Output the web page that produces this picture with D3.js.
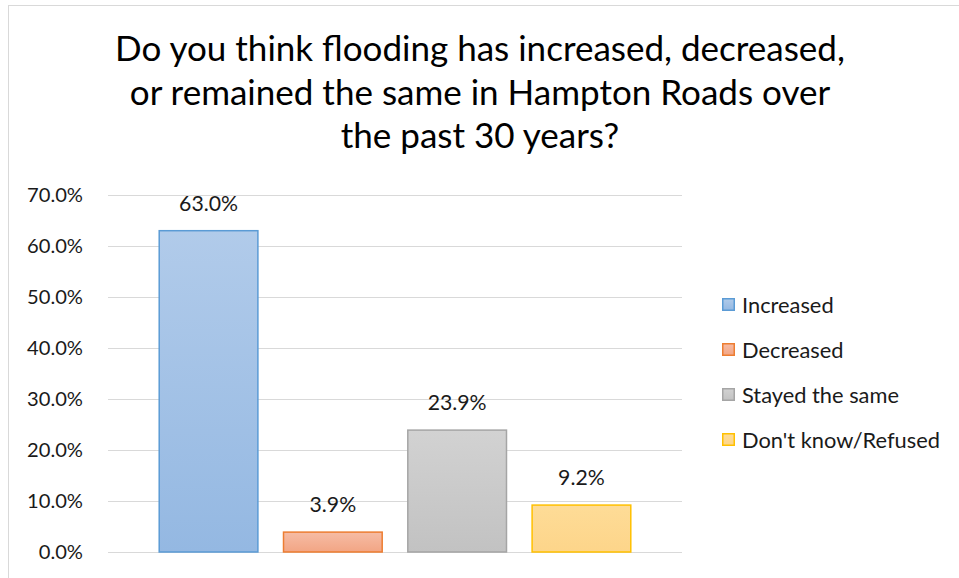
<!DOCTYPE html>
<html>
<head>
<meta charset="utf-8">
<script src="https://cdn.jsdelivr.net/npm/d3@7"></script>
<style>
  html, body { margin: 0; padding: 0; background: #fff; }
  svg { display: block; font-family: "Lato", "Open Sans", sans-serif; }
</style>
</head>
<body>
<svg id="chart" width="959" height="578"></svg>
<script>
// ---- data ----
const titleLines = [
  "Do you think flooding has increased, decreased,",
  "or remained the same in Hampton Roads over",
  "the past 30 years?"
];
const seriesNames = ["Increased", "Decreased", "Stayed the same", "Don't know/Refused"];
const seriesValues = [63.0, 3.9, 23.9, 9.2];
const yTickValues = [0, 10, 20, 30, 40, 50, 60, 70];
const fillTop = ["#b1cbea", "#f6bca5", "#d2d2d2", "#fedc97"];
const fillBottom = ["#94b8e2", "#f2a584", "#c2c2c2", "#fdd58a"];
const strokeColors = ["#5b9bd5", "#ed7d31", "#a5a5a5", "#ffc000"];

// ---- layout ----
const svg = d3.select("#chart");
const plot = { left: 108, right: 682, top: 195, bottom: 552 };
const textColor = "#1a1a1a";

// fit a text selection's font size so that a reference node reaches a target width
function fitFont(sel, refNode, baseSize, targetWidth) {
  const w = refNode.getComputedTextLength();
  sel.attr("font-size", baseSize * targetWidth / w);
}

// chart border
svg.append("rect")
  .attr("x", 8.5).attr("y", 5.5)
  .attr("width", 1000).attr("height", 1000)
  .attr("fill", "none").attr("stroke", "#d9d9d9").attr("stroke-width", 1);

const defs = svg.append("defs");
seriesNames.forEach((s, i) => {
  const g = defs.append("linearGradient")
    .attr("id", "grad" + i).attr("x1", 0).attr("y1", 0).attr("x2", 0).attr("y2", 1);
  g.append("stop").attr("offset", "0%").attr("stop-color", fillTop[i]);
  g.append("stop").attr("offset", "100%").attr("stop-color", fillBottom[i]);
});

const y = d3.scaleLinear().domain([0, 70]).range([plot.bottom, plot.top]);
const x = d3.scaleBand().domain(seriesNames)
  .range([plot.left, plot.right])
  .paddingInner(0.194).paddingOuter(0.406);

// gridlines
svg.append("g").selectAll("line").data(yTickValues).join("line")
  .attr("x1", plot.left).attr("x2", plot.right)
  .attr("y1", d => Math.round(y(d)) + 0.5).attr("y2", d => Math.round(y(d)) + 0.5)
  .attr("stroke", "#d9d9d9").attr("stroke-width", 1);

// y axis labels
const yAxis = d3.axisLeft(y).tickValues(yTickValues)
  .tickFormat(d => d3.format(".1f")(d) + "%").tickSize(0).tickPadding(0);
const yg = svg.append("g").attr("transform", `translate(83,0)`).call(yAxis);
yg.select(".domain").remove();
const yTexts = yg.selectAll("text").attr("font-size", 19).attr("fill", textColor)
  .attr("font-family", "Lato, 'Open Sans', sans-serif");
fitFont(yTexts, yTexts.filter(d => d === 70).node(), 19, 56);

// bars
svg.append("g").selectAll("rect").data(seriesValues).join("rect")
  .attr("x", (d, i) => x(seriesNames[i]) + 0.75)
  .attr("width", x.bandwidth() - 1.5)
  .attr("y", d => y(d))
  .attr("height", d => y(0) - y(d))
  .attr("fill", (d, i) => `url(#grad${i})`)
  .attr("stroke", (d, i) => strokeColors[i])
  .attr("stroke-width", 1.5);

// data labels
const dl = svg.append("g").selectAll("text").data(seriesValues).join("text")
  .attr("x", (d, i) => x(seriesNames[i]) + x.bandwidth() / 2)
  .attr("y", d => y(d) - 20)
  .attr("text-anchor", "middle")
  .attr("font-size", 19).attr("fill", textColor)
  .text(d => d3.format(".1f")(d) + "%");
fitFont(dl, dl.node(), 19, 59);

// legend
const legendRows = [305, 350, 395, 440];
const lg = svg.append("g");
const legTexts = [];
seriesNames.forEach((s, i) => {
  lg.append("rect")
    .attr("x", 722.75).attr("y", legendRows[i] - 6.25)
    .attr("width", 11.5).attr("height", 11.5)
    .attr("fill", `url(#grad${i})`)
    .attr("stroke", strokeColors[i]).attr("stroke-width", 1.5);
  legTexts.push(lg.append("text")
    .attr("x", 742).attr("y", legendRows[i])
    .attr("dy", "0.35em")
    .attr("font-size", 20).attr("fill", textColor)
    .text(s).node());
});
fitFont(d3.selectAll(legTexts), legTexts[3], 20, 198);

// title
const titleBaselines = [61, 104.5, 148];
const tg = svg.append("g");
const tNodes = titleLines.map((t, i) =>
  tg.append("text")
    .attr("x", 480).attr("y", titleBaselines[i])
    .attr("text-anchor", "middle")
    .attr("font-size", 33).attr("fill", "#000")
    .text(t).node());
fitFont(d3.selectAll(tNodes), tNodes[0], 33, 730);
</script>
</body>
</html>
